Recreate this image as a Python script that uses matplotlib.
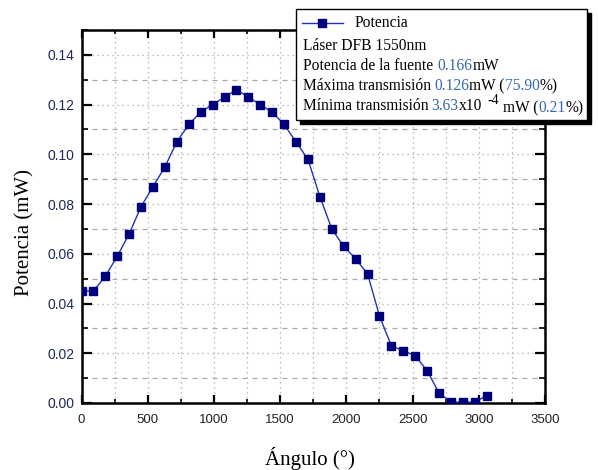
import matplotlib
matplotlib.use("Agg")
import matplotlib.pyplot as plt
from matplotlib.patches import Rectangle
from matplotlib.lines import Line2D
from matplotlib.ticker import MultipleLocator

# datos
angulo = [0, 90, 180, 270, 360, 450, 540, 630, 720, 810, 900, 990, 1080, 1170,
          1260, 1350, 1440, 1530, 1620, 1710, 1800, 1890, 1980, 2070, 2160,
          2250, 2340, 2430, 2520, 2610, 2700, 2790, 2880, 2970, 3060]
potencia = [0.045, 0.045, 0.051, 0.059, 0.068, 0.079, 0.087, 0.095, 0.105,
            0.112, 0.117, 0.120, 0.123, 0.126, 0.123, 0.120, 0.117, 0.112,
            0.105, 0.098, 0.083, 0.070, 0.063, 0.058, 0.052, 0.035, 0.023,
            0.021, 0.019, 0.013, 0.004, 0.0004, 0.0004, 0.00036, 0.003]
x_ticks = [0, 500, 1000, 1500, 2000, 2500, 3000, 3500]
y_ticks = [0.00, 0.02, 0.04, 0.06, 0.08, 0.10, 0.12, 0.14]

W, H = 598, 470
SERIF = 'Liberation Serif'
SANS = 'Liberation Sans'
AZUL_NUM = '#3566b0'
FS_LEY = 11.2

fig = plt.figure(figsize=(W / 100, H / 100), dpi=100)
ax = fig.add_axes([81.5 / W, 1 - 403 / H, (545 - 81.5) / W, (403 - 30) / H])

ax.plot(angulo, potencia, color='#2233bb', lw=1.0, marker='s', ms=6,
        mfc='#00007a', mec='#00007a', zorder=3)

ax.set_xlim(0, 3500)
ax.set_ylim(0, 0.15)
ax.set_xticks(x_ticks)
ax.set_yticks(y_ticks)
ax.set_xticklabels([str(v) for v in x_ticks], family=SANS, fontsize=9.5, color='#222222')
ax.set_yticklabels([f"{v:.2f}" for v in y_ticks], family=SANS, fontsize=10, color='#1f2a5a')
ax.xaxis.set_minor_locator(MultipleLocator(250))
ax.yaxis.set_minor_locator(MultipleLocator(0.01))
ax.tick_params(which='both', direction='in', top=True, right=True)
ax.tick_params(axis='y', which='major', length=7.5, width=1.6, pad=5)
ax.tick_params(axis='y', which='minor', length=4.5, width=1.2)
ax.tick_params(axis='x', which='major', length=6, width=1.6, pad=8)
ax.tick_params(axis='x', which='minor', length=3, width=1.2)
for s in ax.spines.values():
    s.set_linewidth(1.8)

ax.grid(which='major', linestyle=(0, (1, 3)), color='#a8a8a8', lw=0.9)
ax.xaxis.grid(True, which='minor', linestyle=(0, (1, 3)), color='#a8a8a8', lw=0.9)
ax.yaxis.grid(True, which='minor', linestyle=(0, (4, 4)), color='#a8a8a8', lw=0.9)
ax.set_axisbelow(True)

fig.text(310 / W, 1 - 459 / H, 'Ángulo (°)', family=SERIF, fontsize=15,
         ha='center', va='center')
fig.text(25 / W, 1 - 232 / H, 'Potencia (mW)', family=SERIF, fontsize=15,
         ha='center', va='center', rotation=90)

# cuadro de leyenda con sombra
def fbox(x0, y0, x1, y1):
    return (x0 / W, 1 - y1 / H), (x1 - x0) / W, (y1 - y0) / H

xy, w, h = fbox(300, 13, 591, 124)
fig.add_artist(Rectangle(xy, w, h, transform=fig.transFigure,
                         facecolor='black', edgecolor='black', zorder=10))
xy, w, h = fbox(296, 9, 587, 120)
fig.add_artist(Rectangle(xy, w, h, transform=fig.transFigure,
                         facecolor='white', edgecolor='black', lw=1.0, zorder=11))

fig.add_artist(Line2D([302 / W, 343 / W], [1 - 23 / H, 1 - 23 / H],
                      transform=fig.transFigure, color='#2233bb', lw=1.0, zorder=12))
fig.add_artist(Line2D([322 / W], [1 - 23 / H], transform=fig.transFigure,
                      marker='s', ms=6, mfc='#00007a', mec='#00007a', zorder=13))
fig.text(355 / W, 1 - 23 / H, 'Potencia', family=SERIF, fontsize=FS_LEY,
         va='center', zorder=12)

renderer = fig.canvas.get_renderer()


def fila(y, piezas):
    x = 303
    for txt, color, dy, size, gap in piezas:
        t = fig.text(x / W, 1 - (y - dy) / H, txt, color=color, fontsize=size,
                     family=SERIF, va='center', ha='left', zorder=12)
        x += t.get_window_extent(renderer=renderer).width + gap


fila(46, [('Láser DFB 1550nm', 'black', 0, FS_LEY, 0)])
fila(66, [('Potencia de la fuente', 'black', 0, FS_LEY, 4),
          ('0.166', AZUL_NUM, 0, FS_LEY, 1),
          ('mW', 'black', 0, FS_LEY, 0)])
fila(86, [('Máxima transmisión', 'black', 0, FS_LEY, 3),
          ('0.126', AZUL_NUM, 0, FS_LEY, 0),
          ('mW (', 'black', 0, FS_LEY, 0),
          ('75.90', AZUL_NUM, 0, FS_LEY, 0),
          ('%)', 'black', 0, FS_LEY, 0)])
fila(106, [('Mínima transmisión', 'black', 0, FS_LEY, 3),
           ('3.63', AZUL_NUM, 0, FS_LEY, 0),
           ('x10', 'black', 0, FS_LEY, 5),
           ('-4', 'black', 6, 10, 4),
           ('mW (', 'black', -2, FS_LEY, 0),
           ('0.21', AZUL_NUM, -2, FS_LEY, 0),
           ('%)', 'black', -2, FS_LEY, 0)])

fig.savefig('out.png', dpi=100)
